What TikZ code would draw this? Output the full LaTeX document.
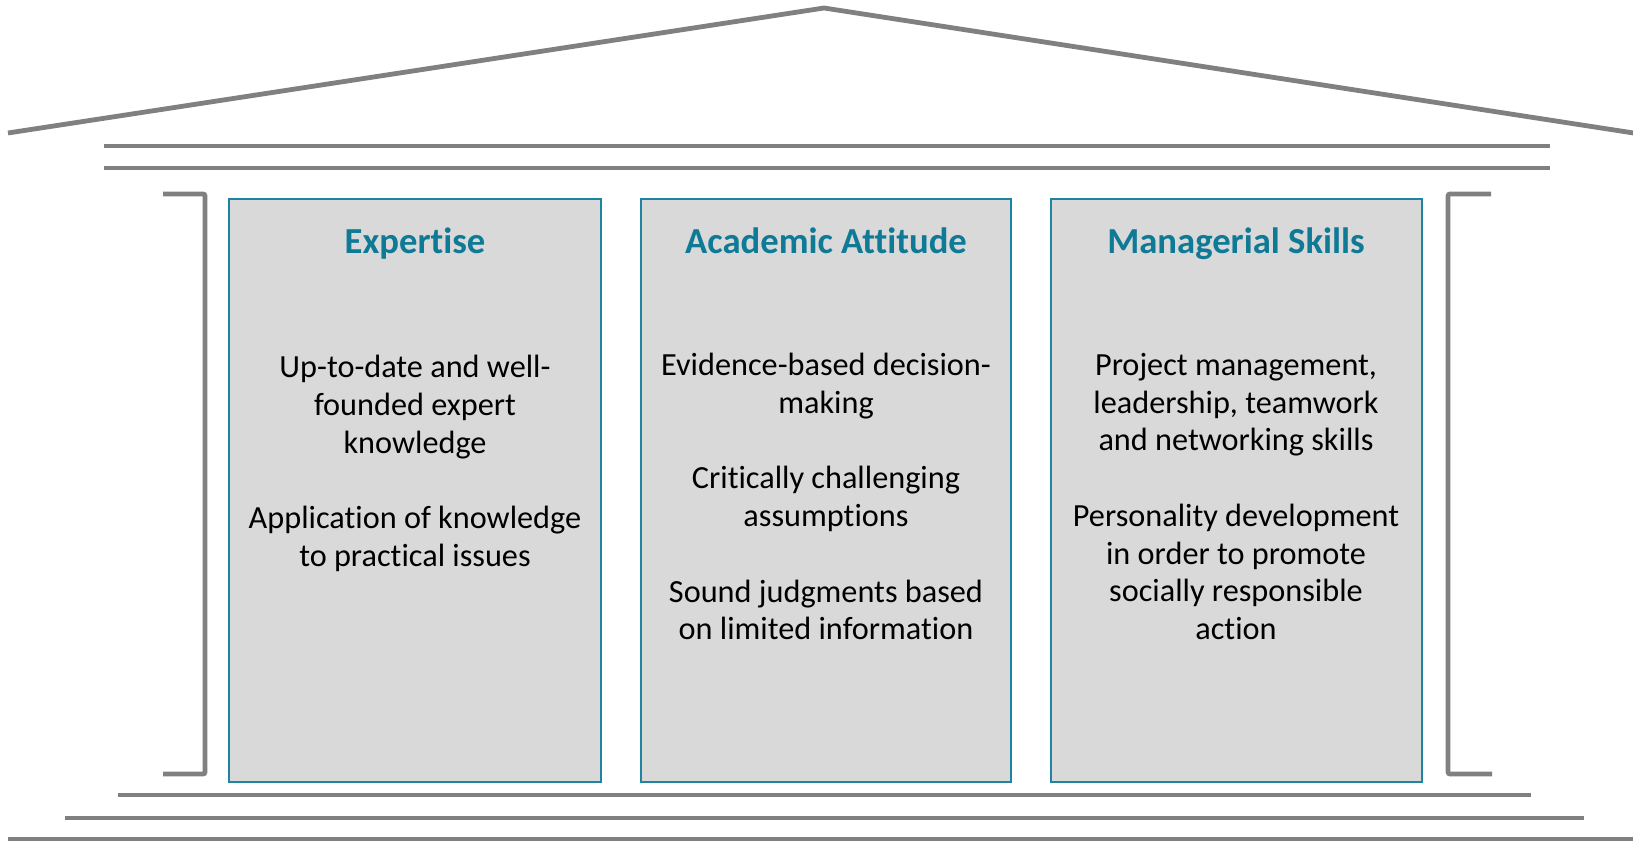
\documentclass[tikz,border=0pt]{standalone}
\usepackage{fontspec}
\setmainfont{Carlito}[Ligatures=NoCommon]
\definecolor{roofgray}{RGB}{128,128,128}
\definecolor{teal1}{RGB}{14,122,150}
\definecolor{boxborder}{RGB}{30,132,160}
\definecolor{boxfill}{RGB}{217,217,217}
\tikzset{
  beam/.style={draw=roofgray, line width=3.6pt},
  bracket/.style={draw=roofgray, line width=3.6pt, rounded corners=1.5pt},
  pillar/.style={draw=boxborder, fill=boxfill, line width=1.6pt},
  title/.style={font=\fontsize{27.5}{33}\selectfont\bfseries, text=teal1, inner sep=0pt, anchor=base},
  body/.style={font=\fontsize{24.2}{28.3}\selectfont, text=black, align=center, inner sep=0pt, anchor=north},
}
\begin{document}
\begin{tikzpicture}[x=0.75pt,y=-0.75pt]
\useasboundingbox (0,0) rectangle (1633,841);
% roof
\coordinate (rl) at (8,133);
\coordinate (rp) at (824,8);
\coordinate (rr) at (1640,134);
\draw[beam, line join=round] (rl) -- (rp) -- (rr);
% top beams
\coordinate (ta1) at (104,146); \coordinate (tb1) at (1550,146);
\coordinate (ta2) at (104,168); \coordinate (tb2) at (1550,168);
\draw[beam] (ta1) -- (tb1);
\draw[beam] (ta2) -- (tb2);
% brackets
\coordinate (lb1) at (163,194); \coordinate (lb2) at (205,194);
\coordinate (lb3) at (205,774); \coordinate (lb4) at (163,774);
\draw[bracket] (lb1) -- (lb2) -- (lb3) -- (lb4);
\coordinate (rb1) at (1491,194); \coordinate (rb2) at (1448,194);
\coordinate (rb3) at (1448,774); \coordinate (rb4) at (1492,774);
\draw[bracket] (rb1) -- (rb2) -- (rb3) -- (rb4);
% pillars
\draw[pillar] (229,199) rectangle (601,782);
\draw[pillar] (641,199) rectangle (1011,782);
\draw[pillar] (1051,199) rectangle (1422,782);
% bottom steps
\coordinate (ba1) at (118,795); \coordinate (bb1) at (1531,795);
\coordinate (ba2) at (65,818);  \coordinate (bb2) at (1584,818);
\coordinate (ba3) at (8,839);   \coordinate (bb3) at (1640,839);
\draw[beam] (ba1) -- (bb1);
\draw[beam] (ba2) -- (bb2);
\draw[beam] (ba3) -- (bb3);
% titles
\node[title] (t1) at (415,254) {Expertise};
\node[title] (t2) at (826,254) {Academic Attitude};
\node[title] (t3) at (1236,254) {Managerial Skills};
% bodies
\node[body] (b1) at (415,355) {Up-to-date and well-\\founded expert\\knowledge\\[28.3pt]Application of knowledge\\to practical issues};
\node[body] (b2) at (826,353) {Evidence-based decision-\\making\\[28.3pt]Critically challenging\\assumptions\\[28.3pt]Sound judgments based\\on limited information};
\node[body] (b3) at (1236,353) {Project management,\\leadership, teamwork\\and networking skills\\[28.3pt]Personality development\\in order to promote\\socially responsible\\action};
\end{tikzpicture}
\end{document}
